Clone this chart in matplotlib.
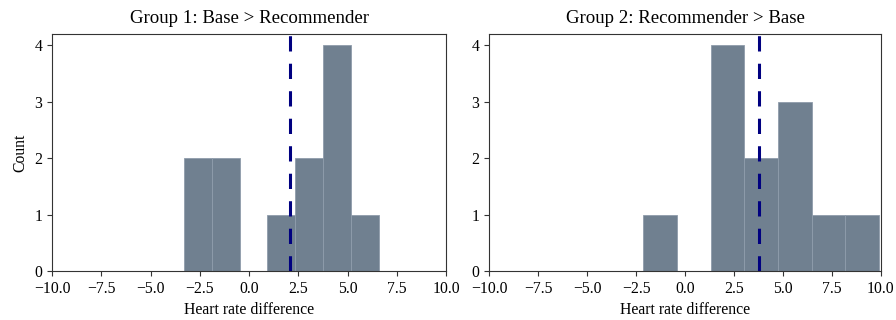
import numpy as np
import matplotlib.pyplot as plt

plt.rcParams['font.family'] = ['Liberation Serif', 'DejaVu Serif']

# histogram bins and counts
edges_g1 = [-3.30, -1.89, -0.48, 0.93, 2.34, 3.75, 5.16, 6.57]
counts_g1 = [2, 2, 0, 1, 2, 4, 1]
mean_g1 = 2.06

edges_g2 = [-2.13, -0.41, 1.31, 3.03, 4.75, 6.47, 8.19, 9.90]
counts_g2 = [1, 0, 4, 2, 3, 1, 1]
mean_g2 = 3.79

titles = ["Group 1: Base > Recommender", "Group 2: Recommender > Base"]

fig = plt.figure(figsize=(8.96, 3.2), dpi=100)
ax1 = fig.add_axes([0.058, 0.153, 0.440, 0.741])
ax2 = fig.add_axes([0.546, 0.153, 0.437, 0.741])

for ax, edges, counts, m, t in [(ax1, edges_g1, counts_g1, mean_g1, titles[0]),
                                (ax2, edges_g2, counts_g2, mean_g2, titles[1])]:
    e = np.array(edges)
    ax.bar(e[:-1], counts, width=np.diff(e), align='edge',
           color='slategray', edgecolor='#8f9cab', linewidth=0.6)
    ax.axvline(m, color='navy', linestyle='--', linewidth=2.2, dashes=(5, 4))
    ax.set_xlim(-10, 10)
    ax.set_ylim(0, 4.2)
    ax.set_xticks(np.arange(-10, 10.1, 2.5))
    ax.set_yticks([0, 1, 2, 3, 4])
    ax.set_title(t, fontsize=13.6, pad=8)
    ax.set_xlabel("Heart rate difference", fontsize=11.3)
    ax.tick_params(labelsize=11.3, color='#333333')
    for s in ax.spines.values():
        s.set_color('#333333')

ax1.set_ylabel("Count", fontsize=11.3)

fig.savefig("out.png", dpi=100)
